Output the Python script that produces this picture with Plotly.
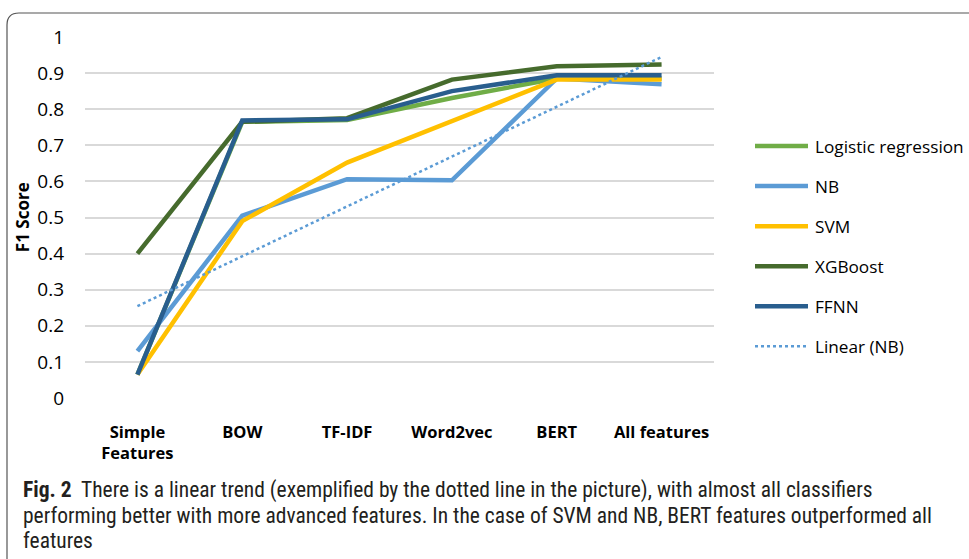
import numpy as np
import plotly.graph_objects as go

categories = ["Simple<br>Features", "BOW", "TF-IDF", "Word2vec", "BERT", "All features"]
y_ticks = [0, 0.1, 0.2, 0.3, 0.4, 0.5, 0.6, 0.7, 0.8, 0.9, 1]
y_tick_labels = ["0", "0.1", "0.2", "0.3", "0.4", "0.5", "0.6", "0.7", "0.8", "0.9", "1"]

lr_vals = [0.065, 0.765, 0.770, 0.831, 0.885, 0.885]
nb_vals = [0.130, 0.505, 0.606, 0.603, 0.885, 0.869]
svm_vals = [0.065, 0.490, 0.652, 0.767, 0.882, 0.882]
xgb_vals = [0.400, 0.765, 0.775, 0.882, 0.919, 0.924]
ffnn_vals = [0.065, 0.769, 0.772, 0.850, 0.894, 0.894]

# linear trendline of NB (as in Excel's "Linear (NB)")
xi = np.arange(1, len(nb_vals) + 1)
slope, intercept = np.polyfit(xi, nb_vals, 1)
trend_vals = list(slope * xi + intercept)

series = [
    ("Logistic regression", lr_vals, "#70AD47", 4.5, "solid"),
    ("NB", nb_vals, "#5B9BD5", 4.5, "solid"),
    ("SVM", svm_vals, "#FFC000", 4.5, "solid"),
    ("XGBoost", xgb_vals, "#466B2D", 4.5, "solid"),
    ("FFNN", ffnn_vals, "#295E8E", 4.5, "solid"),
    ("Linear (NB)", trend_vals, "#5B9BD5", 2.5, "dot"),
]

fig = go.Figure()
for name, vals, col, w, dash in series:
    fig.add_trace(go.Scatter(x=categories, y=vals, name=name, mode="lines",
                             showlegend=False, line=dict(color=col, width=w, dash=dash)))

W, H = 969, 559
L, R, T, B = 85, 714, 37, 397.7
def px(x):
    return (x - L) / (R - L)
def py(y):
    return (B - y) / (B - T)

main_font = "Open Sans, Noto Sans, sans-serif"

# legend (drawn manually so it can run to the right edge like the reference)
for i, (name, vals, col, w, dash) in enumerate(series):
    yy = 146 + 40 * i
    fig.add_shape(type="line", xref="paper", yref="paper",
                  x0=px(755), x1=px(808), y0=py(yy), y1=py(yy),
                  line=dict(color=col, width=w, dash=dash))
    fig.add_annotation(xref="paper", yref="paper", x=px(813), y=py(yy),
                       xanchor="left", yanchor="middle", text=name, showarrow=False,
                       font=dict(family=main_font, size=17.2, color="#000000"))

# y axis title
fig.add_annotation(xref="paper", yref="paper", x=px(22), y=py(217), textangle=-90,
                   xanchor="center", yanchor="middle", text="<b>F1 Score</b>",
                   showarrow=False, font=dict(family=main_font, size=17, color="#000000"))

# rounded border box
x0, x1, y0, y1, r = 7, 990, 13, 560, 12
path = (f"M {px(x0)},{py(y0 + r)} L {px(x0)},{py(y1)} "
        f"M {px(x0)},{py(y0 + r)} Q {px(x0)},{py(y0)} {px(x0 + r)},{py(y0)} "
        f"L {px(x1 - r)},{py(y0)} Q {px(x1)},{py(y0)} {px(x1)},{py(y0 + r)}")
fig.add_shape(type="path", xref="paper", yref="paper", path=path,
              line=dict(color="#555555", width=1.2))

cap_font = "Liberation Sans Narrow, Roboto Condensed, Open Sans, sans-serif"
caption = [
    "<b>Fig. 2</b>  There is a linear trend (exemplified by the dotted line in the picture), with almost all classifiers",
    "performing better with more advanced features. In the case of SVM and NB, BERT features outperformed all",
    "features",
]
for i, line in enumerate(caption):
    fig.add_annotation(xref="paper", yref="paper", x=px(21), y=py(490 + i * 25),
                       xanchor="left", yanchor="middle", text=line, showarrow=False,
                       font=dict(family=cap_font, size=21.5, color="#231F20"))

fig.update_layout(
    width=W, height=H,
    margin=dict(l=L, r=W - R, t=T, b=H - B),
    paper_bgcolor="white", plot_bgcolor="white",
    font=dict(family=main_font, color="#000000"),
    showlegend=False,
    xaxis=dict(showgrid=False, zeroline=False, showline=False, ticks="",
               tickfont=dict(size=16.5, family=main_font, weight="bold"),
               ticklabelstandoff=22, range=[-0.5, 5.5]),
    yaxis=dict(range=[0, 1], tickvals=y_ticks, ticktext=y_tick_labels,
               showgrid=True, gridcolor="#D9D9D9", gridwidth=1.8, zeroline=False,
               showline=False, ticks="", tickfont=dict(size=19, family=main_font),
               ticklabelstandoff=20),
)

fig.write_html("out.html", config={"displayModeBar": False},
               post_script="document.body.style.margin='0px';document.body.style.overflow='hidden';")
